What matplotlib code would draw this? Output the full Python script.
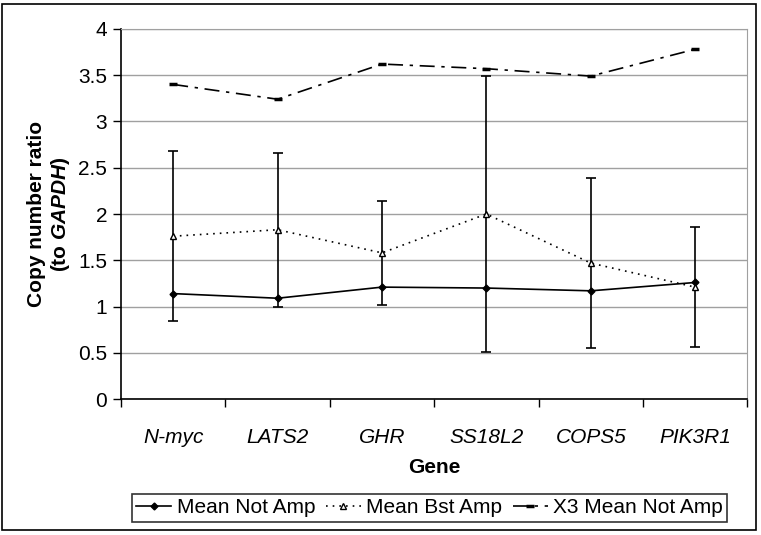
import numpy as np
import matplotlib
matplotlib.use('Agg')
from matplotlib import pyplot as plt

genes = ['N-myc', 'LATS2', 'GHR', 'SS18L2', 'COPS5', 'PIK3R1']
mean_not_amp = [1.14, 1.09, 1.21, 1.20, 1.17, 1.26]
mean_bst_amp = [1.76, 1.83, 1.58, 2.00, 1.47, 1.21]
bst_amp_err = [0.92, 0.83, 0.565, 1.49, 0.92, 0.65]
x3_mean_not_amp = [3.40, 3.24, 3.62, 3.57, 3.49, 3.78]
y_ticks = [0, 0.5, 1, 1.5, 2, 2.5, 3, 3.5, 4]
y_tick_labels = ['0', '0.5', '1', '1.5', '2', '2.5', '3', '3.5', '4']

plt.rcParams['font.family'] = ['Liberation Sans', 'DejaVu Sans']
plt.rcParams['mathtext.fontset'] = 'custom'
plt.rcParams['mathtext.bfit'] = 'Liberation Sans:bold:italic'

fig = plt.figure(figsize=(7.61, 5.35), dpi=100)
ax = fig.add_axes([0.159, 0.254, 0.823, 0.692])

x = np.arange(len(genes)) + 0.5

ax.errorbar(x, mean_bst_amp, yerr=bst_amp_err, fmt='none', ecolor='black',
            elinewidth=1.2, capsize=3.5, capthick=1.2, zorder=3)
ax.plot(x, mean_not_amp, color='black', lw=1.2, marker='D', markersize=3.5,
        label='Mean Not Amp', zorder=4)
ax.plot(x, mean_bst_amp, color='black', lw=1.2, ls=(0, (1, 3)), marker='^',
        markersize=5, markerfacecolor='white', markeredgecolor='black',
        label='Mean Bst Amp', zorder=4)
ax.plot(x, x3_mean_not_amp, color='black', lw=1.2, ls=(0, (9, 4, 2, 4)),
        marker='_', markersize=6, markeredgewidth=2.5,
        label='X3 Mean Not Amp', zorder=4)

ax.set_xlim(0, len(genes))
ax.set_ylim(0, 4)
ax.set_yticks(y_ticks)
ax.set_yticklabels(y_tick_labels, fontsize=15)
ax.set_xticks(x)
ax.set_xticklabels(genes, fontsize=15, style='italic')
ax.set_xticks(np.arange(len(genes) + 1), minor=True)
ax.tick_params(axis='x', which='major', length=0, pad=21)
ax.tick_params(axis='x', which='minor', length=6, direction='out', width=1)
ax.tick_params(axis='y', length=6, direction='out', width=1, pad=4)

ax.grid(axis='y', color='#a0a0a0', lw=1)
ax.set_axisbelow(True)
for side in ['top', 'right']:
    ax.spines[side].set_color('#a0a0a0')
for side in ['left', 'bottom']:
    ax.spines[side].set_color('black')
    ax.spines[side].set_linewidth(1.2)

ax.set_xlabel('Gene', fontsize=15, fontweight='bold', labelpad=8)
ax.set_ylabel('Copy number ratio\n(to $\\mathbfit{GAPDH}$)', fontsize=15,
              fontweight='bold', labelpad=4, linespacing=1.2)

leg = fig.legend(loc='center', bbox_to_anchor=(0.5644, 0.0505), ncol=3,
                 fontsize=15, frameon=True, fancybox=False, handlelength=1.7,
                 handletextpad=0.25, columnspacing=0.5, borderpad=0.2,
                 borderaxespad=0)
leg.get_frame().set_edgecolor('black')
leg.get_frame().set_linewidth(1.2)

fig.patches.append(plt.Rectangle((0.003, 0.009), 0.991, 0.983, fill=False,
                                 edgecolor='black', lw=1.2,
                                 transform=fig.transFigure))

plt.savefig('out.png', dpi=100)
